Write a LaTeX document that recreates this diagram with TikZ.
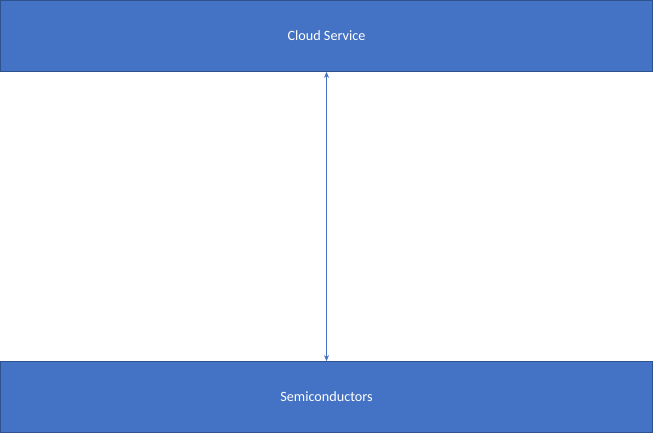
\documentclass[tikz,border=0pt]{standalone}
\usepackage{fontspec}
\setmainfont{Carlito}
\definecolor{boxblue}{HTML}{4472C4}
\definecolor{boxedge}{HTML}{2F528F}
\usetikzlibrary{arrows.meta, positioning}

\begin{document}
\begin{tikzpicture}[x=1pt, y=1pt,
   layer/.style={draw=boxedge, fill=boxblue, line width=0.8pt, text=white,
      minimum width=652pt, minimum height=71pt, inner sep=0pt, font=\fontsize{14.2}{16}\selectfont},
   link/.style={{Stealth[length=6pt,width=5pt]}-{Stealth[length=6pt,width=5pt]}, boxblue, line width=0.8pt}]
   \useasboundingbox (0,0) rectangle (653,433);
   % Layers
   \node[layer] (cloud) at (326.5,397) {Cloud Service};
   \node[layer] (semi) at (326.5,36) {Semiconductors};
   % Link
   \draw[link] (cloud) -- (semi);
\end{tikzpicture}
\end{document}
